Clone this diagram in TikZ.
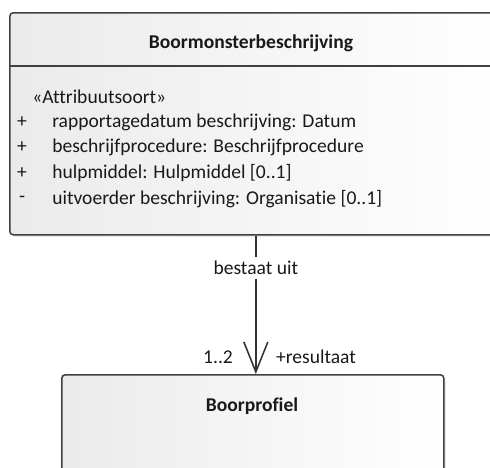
\documentclass[tikz,border=0pt]{standalone}
\usepackage{fontspec}
\setmainfont{Carlito}[Ligatures=NoCommon]
\usetikzlibrary{arrows.meta, shadows}
\usetikzlibrary{positioning}

\tikzset{
	umlbox/.style={draw=black!75, line width=1.1pt, rounded corners=2.5pt, inner sep=0,
		left color=black!8, right color=white,
		drop shadow={opacity=0.18, shadow xshift=1.5pt, shadow yshift=-1.5pt}},
	umltext/.style={font=\fontsize{13.9}{16}\selectfont, inner sep=0, text=black!90},
	umltitle/.style={umltext, font=\fontsize{13.9}{16}\selectfont\bfseries},
	assoc/.style={draw=black!80, line width=1.1pt, -{Straight Barb[length=0.75cm, width=0.6cm]}},
}

\begin{document}
\begin{tikzpicture}[x=0.025cm, y=-0.025cm]
		\useasboundingbox (0,0) rectangle (490,467);
		\clip (0,0) rectangle (490,467);
		
		\node[umlbox, anchor=north west, minimum width=12.3cm, minimum height=5.55cm] (monster) at (9,12) {};
		\node[umlbox, anchor=north west, minimum width=9.55cm, minimum height=3.2cm] (profiel) at (61,374) {};
		\draw[draw=black!75, line width=1.1pt] (9,66) -- (501,66);
		
		\node[umltitle] (monstertitle) at (251,43) {Boormonsterbeschrijving};
		\node[umltitle] (profieltitle) at (252,406) {Boorprofiel};
		
		\node[umltext, anchor=west] (stereo) at (32,97) {«Attribuutsoort»};
		\node[umltext] (vis1) at (22,122) {+};
		\node[umltext] (vis2) at (22,147) {+};
		\node[umltext] (vis3) at (22,173) {+};
		\node[umltext] (vis4) at (22,199) {-};
		\node[umltext, anchor=west] (attr1) at (52,122) {rapportagedatum beschrijving: Datum};
		\node[umltext, anchor=west] (attr2) at (52,147) {beschrijfprocedure: Beschrijfprocedure};
		\node[umltext, anchor=west] (attr3) at (52,173) {hulpmiddel: Hulpmiddel [0..1]};
		\node[umltext, anchor=west] (attr4) at (52,199) {uitvoerder beschrijving: Organisatie [0..1]};
		
		\draw[assoc] (monster.south) -- (monster.south |- profiel.north)
			node[umltext, pos=0.232, fill=white, inner xsep=2pt, inner ysep=0.1cm] (assoclabel) {bestaat uit};
		
		\node[umltext] (multi) at (218,357) {1..2};
		\node[umltext] (rolnaam) at (316,357) {+resultaat};
	\end{tikzpicture}
\end{document}
